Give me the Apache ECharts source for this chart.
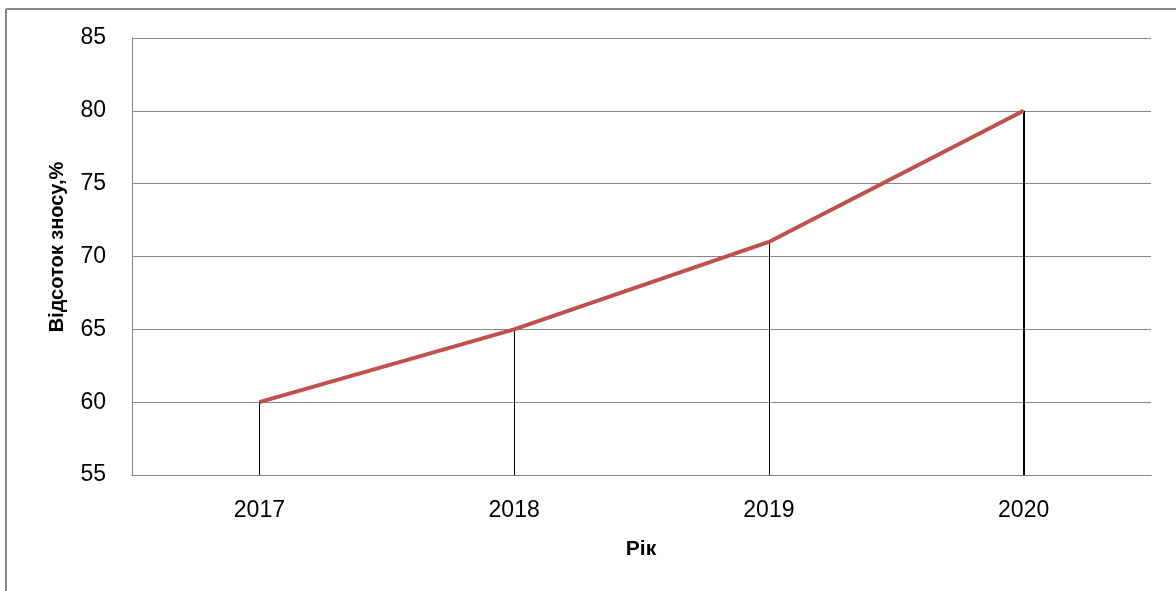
<!DOCTYPE html>
<html>
<head>
<meta charset="utf-8">
<script src="https://cdn.jsdelivr.net/npm/echarts@6/dist/echarts.min.js"></script>
<style>
  html, body { margin: 0; padding: 0; background: #fff; }
  #chart { width: 1176px; height: 591px; }
</style>
</head>
<body>
<div id="chart"></div>
<script>
// Depreciation percentage by year
const years = ['2017', '2018', '2019', '2020'];
const wearPercent = [60, 65, 71, 80];
const yMin = 55;
const yMax = 85;
const yStep = 5;

const axisFont = 'Liberation Sans, Arial, sans-serif';

// Vertical drop lines from each point down to the category axis
const dropLines = years.map((y, i) => [
  { coord: [y, wearPercent[i]], lineStyle: { width: i === years.length - 1 ? 2 : 1 } },
  { coord: [y, yMin] }
]);

const chart = echarts.init(document.getElementById('chart'), null, { renderer: 'canvas' });

chart.setOption({
  animation: false,
  backgroundColor: '#ffffff',
  grid: { left: 132, right: 25, top: 38, bottom: 116, containLabel: false },
  xAxis: {
    type: 'category',
    data: years,
    boundaryGap: true,
    axisLine: { show: true, lineStyle: { color: '#868686', width: 1 } },
    axisTick: { show: false },
    axisLabel: { color: '#000', fontFamily: axisFont, fontSize: 23, margin: 24 }
  },
  yAxis: {
    type: 'value',
    min: yMin,
    max: yMax,
    interval: yStep,
    axisLine: { show: true, lineStyle: { color: '#868686', width: 1 } },
    axisTick: { show: false },
    axisLabel: { color: '#000', fontFamily: axisFont, fontSize: 23, margin: 26 },
    splitLine: { show: true, lineStyle: { color: '#868686', width: 1 } }
  },
  series: [{
    type: 'line',
    data: wearPercent,
    symbol: 'none',
    lineStyle: { color: '#C0504D', width: 4 },
    z: 3,
    markLine: {
      silent: true,
      symbol: ['none', 'none'],
      label: { show: false },
      lineStyle: { color: '#000', type: 'solid', width: 1 },
      data: dropLines,
      z: 2
    }
  }],
  graphic: [
    // outer frame (top and left edges)
    { type: 'line', shape: { x1: 6, y1: 9, x2: 1176, y2: 9 }, style: { stroke: '#878787', lineWidth: 2 } },
    { type: 'line', shape: { x1: 6, y1: 9, x2: 6, y2: 591 }, style: { stroke: '#878787', lineWidth: 2 } },
    // axis titles
    {
      type: 'text',
      x: 57, y: 247,
      rotation: Math.PI / 2,
      style: {
        text: 'Відсоток зносу,%',
        fill: '#000',
        font: 'bold 20px Liberation Sans, Arial, sans-serif',
        textAlign: 'center',
        textVerticalAlign: 'middle'
      }
    },
    {
      type: 'text',
      x: 641, y: 549,
      style: {
        text: 'Рік',
        fill: '#000',
        font: 'bold 21px Liberation Sans, Arial, sans-serif',
        textAlign: 'center',
        textVerticalAlign: 'middle'
      }
    }
  ]
});
</script>
</body>
</html>
